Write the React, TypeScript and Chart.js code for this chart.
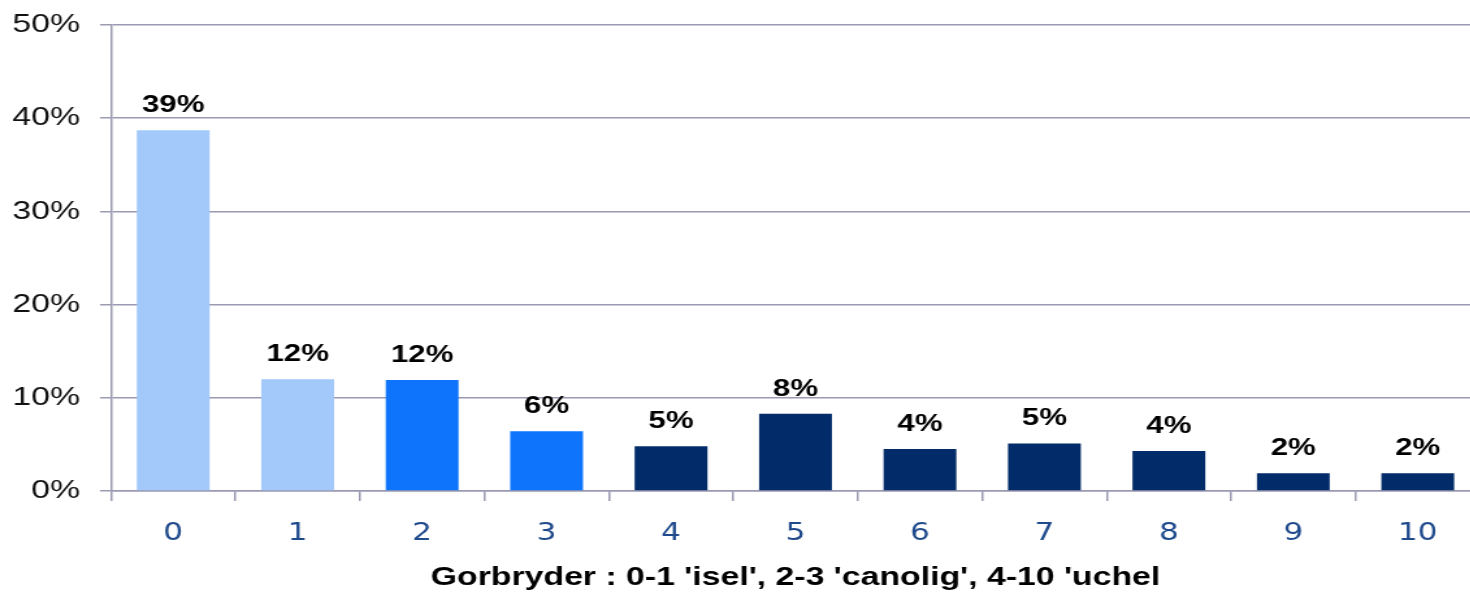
import React, { useEffect, useRef } from "react";
import { Chart, registerables } from "chart.js";

Chart.register(...registerables);

const categories = ["0", "1", "2", "3", "4", "5", "6", "7", "8", "9", "10"];
const values = [38.7, 12.0, 11.9, 6.4, 4.8, 8.3, 4.5, 5.1, 4.3, 1.9, 1.9];
const valueLabels = ["39%", "12%", "12%", "6%", "5%", "8%", "4%", "5%", "4%", "2%", "2%"];
const groups = ["isel", "isel", "canolig", "canolig", "uchel", "uchel", "uchel", "uchel", "uchel", "uchel", "uchel"];
const xTitle = "Gorbryder : 0-1 'isel', 2-3 'canolig', 4-10 'uchel";

const groupColors: Record<string, string> = {
  isel: "#A3C9FA",
  canolig: "#0D74FB",
  uchel: "#022C69",
};
const GRID = "#9A9AB2";

// the reference is stretched horizontally
const STRETCH = 1.3;
const FULL_W = 1490;
const W = Math.round(FULL_W / STRETCH);
const H = 593;

const labelPlugin = {
  id: "valueLabels",
  afterDatasetsDraw(chart: any) {
    const ctx = chart.ctx;
    const meta = chart.getDatasetMeta(0);
    ctx.save();
    ctx.font = "bold 24px 'Liberation Sans', Arial, sans-serif";
    ctx.fillStyle = "#000";
    ctx.textAlign = "center";
    ctx.textBaseline = "alphabetic";
    meta.data.forEach((bar: any, i: number) => {
      ctx.fillText(valueLabels[i], bar.x, bar.y - 18);
    });
    ctx.restore();
  },
};

export default function App() {
  const ref = useRef<HTMLCanvasElement | null>(null);
  useEffect(() => {
    if (!ref.current) return;
    const chart = new Chart(ref.current, {
      type: "bar",
      data: {
        labels: categories,
        datasets: [
          {
            data: values,
            backgroundColor: groups.map((g) => groupColors[g]),
            barPercentage: 0.585,
            categoryPercentage: 1,
          },
        ],
      },
      options: {
        animation: false,
        responsive: false,
        maintainAspectRatio: false,
        layout: { padding: { left: 0, right: W - 1480 / STRETCH, top: 25, bottom: 0 } },
        plugins: { legend: { display: false }, tooltip: { enabled: false } },
        scales: {
          x: {
            offset: true,
            grid: {
              offset: true,
              drawOnChartArea: false,
              drawTicks: true,
              tickLength: 10,
              color: GRID,
              lineWidth: 1.5,
            },
            border: { display: true, color: GRID, width: 1.5 },
            ticks: {
              color: "#1F4A8C",
              font: { family: "'DejaVu Sans', sans-serif", size: 24 },
              padding: 18,
              maxRotation: 0,
            },
            title: {
              display: true,
              text: xTitle,
              color: "#000",
              font: { family: "'Liberation Sans', Arial, sans-serif", size: 26, weight: "bold" },
              padding: { top: 0, bottom: 0 },
            },
            afterFit: (scale: any) => {
              scale.height = 102;
              scale.paddingLeft = 0;
              scale.paddingRight = 0;
            },
          },
          y: {
            min: 0,
            max: 50,
            ticks: {
              stepSize: 10,
              color: "#111",
              font: { family: "'Liberation Sans', Arial, sans-serif", size: 26 },
              padding: 20 / STRETCH,
              callback: (v: any) => v + "%",
            },
            grid: {
              color: GRID,
              lineWidth: 1.5,
              drawTicks: true,
              tickLength: 11 / STRETCH,
            },
            border: { display: true, color: GRID, width: 1.5 },
            afterFit: (scale: any) => {
              scale.width = 111 / STRETCH;
              scale.paddingTop = 0;
              scale.paddingBottom = 0;
            },
          },
        },
      },
      plugins: [labelPlugin],
    });
    return () => chart.destroy();
  }, []);
  return (
    <div style={{ position: "fixed", left: 0, top: 0, width: FULL_W, height: H, background: "#fff", overflow: "hidden" }}>
      <div style={{ width: W, height: H, transform: `scaleX(${STRETCH})`, transformOrigin: "0 0" }}>
        <canvas ref={ref} width={W} height={H} style={{ width: W, height: H, display: "block" }} />
      </div>
    </div>
  );
}
